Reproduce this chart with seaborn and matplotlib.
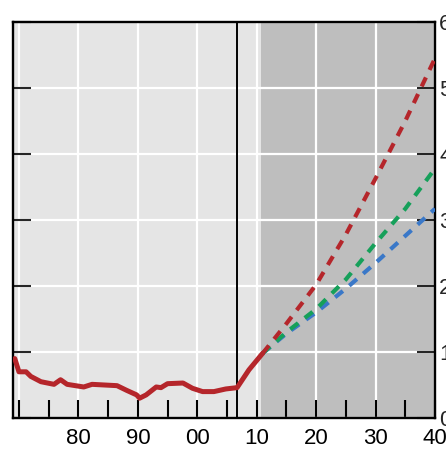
import numpy as np
import pandas as pd
import seaborn as sns
import matplotlib.pyplot as plt

# historical series (red solid)
hist_years = [1969.3, 1970.0, 1971.2, 1972.0, 1973.7, 1975.9, 1977.0, 1978.1, 1980.9,
              1982.3, 1986.5, 1988.1, 1989.8, 1990.3, 1991.4, 1993.1, 1993.9, 1995.0,
              1997.6, 1999.2, 2000.9, 2002.8, 2004.8, 2006.7, 2008.7, 2011.0]
hist_values = [0.90, 0.70, 0.70, 0.63, 0.55, 0.51, 0.58, 0.51, 0.47,
               0.51, 0.49, 0.42, 0.35, 0.30, 0.35, 0.47, 0.46, 0.52,
               0.53, 0.45, 0.40, 0.40, 0.44, 0.46, 0.73, 0.98]

# projections (dashed)
proj_years = [2011, 2015, 2020, 2025, 2030, 2035, 2040]
proj_high = [0.98, 1.43, 2.02, 2.78, 3.63, 4.50, 5.45]
proj_mid = [0.98, 1.30, 1.65, 2.10, 2.65, 3.17, 3.78]
proj_low = [0.98, 1.28, 1.60, 1.96, 2.35, 2.76, 3.17]

x_labels = ["", "80", "90", "00", "10", "20", "30", "40"]
y_labels = ["0", "1", "2", "3", "4", "5", "6"]

RED = "#b5262b"
GREEN = "#16a05a"
BLUE = "#3a78c8"

sns.set_style("white")
plt.rcParams["font.family"] = ["Liberation Sans", "DejaVu Sans"]

fig = plt.figure(figsize=(4.46, 4.53), dpi=100)
ax = fig.add_axes([13 / 446, 1 - 418 / 453, 422 / 446, 396 / 453])

ax.set_facecolor("#e5e5e5")
ax.axvspan(2010.7, 2040, color="#bebebe", lw=0, zorder=0.3)

proj = pd.DataFrame({"year": proj_years * 3,
                     "value": proj_low + proj_mid + proj_high,
                     "scenario": ["low"] * 7 + ["mid"] * 7 + ["high"] * 7})
for name, col in [("low", BLUE), ("mid", GREEN), ("high", RED)]:
    sns.lineplot(data=proj[proj["scenario"] == name], x="year", y="value", ax=ax,
                 color=col, lw=3.0, linestyle=(0, (2.4, 2.0)), zorder=3)

hist = pd.DataFrame({"year": hist_years, "value": hist_values})
sns.lineplot(data=hist, x="year", y="value", ax=ax, color=RED, lw=3.6, zorder=4,
             solid_joinstyle="round", solid_capstyle="round")

ax.axvline(2006.75, color="black", lw=1.4, zorder=2)

ax.set_xlim(1969, 2040)
ax.set_ylim(0, 6)
ax.set_xticks(np.arange(1970, 2041, 10))
ax.set_xticklabels(x_labels)
ax.set_xticks(np.arange(1975, 2040, 10), minor=True)
ax.set_yticks(range(7))
ax.set_yticklabels(y_labels)

ax.grid(True, which="major", color="white", lw=1.6)
ax.set_axisbelow(True)

ax.tick_params(axis="x", which="both", direction="in", length=13, width=1.5,
               colors="black", labelsize=16, pad=7, top=False, bottom=True)
ax.tick_params(axis="y", direction="in", length=13, width=1.5, left=True, right=True,
               labelleft=False, labelright=True, labelsize=16, pad=3)
for s in ax.spines.values():
    s.set_color("black")
    s.set_linewidth(1.7)

ax.set_xlabel("")
ax.set_ylabel("")
fig.savefig("out.png", dpi=100)
